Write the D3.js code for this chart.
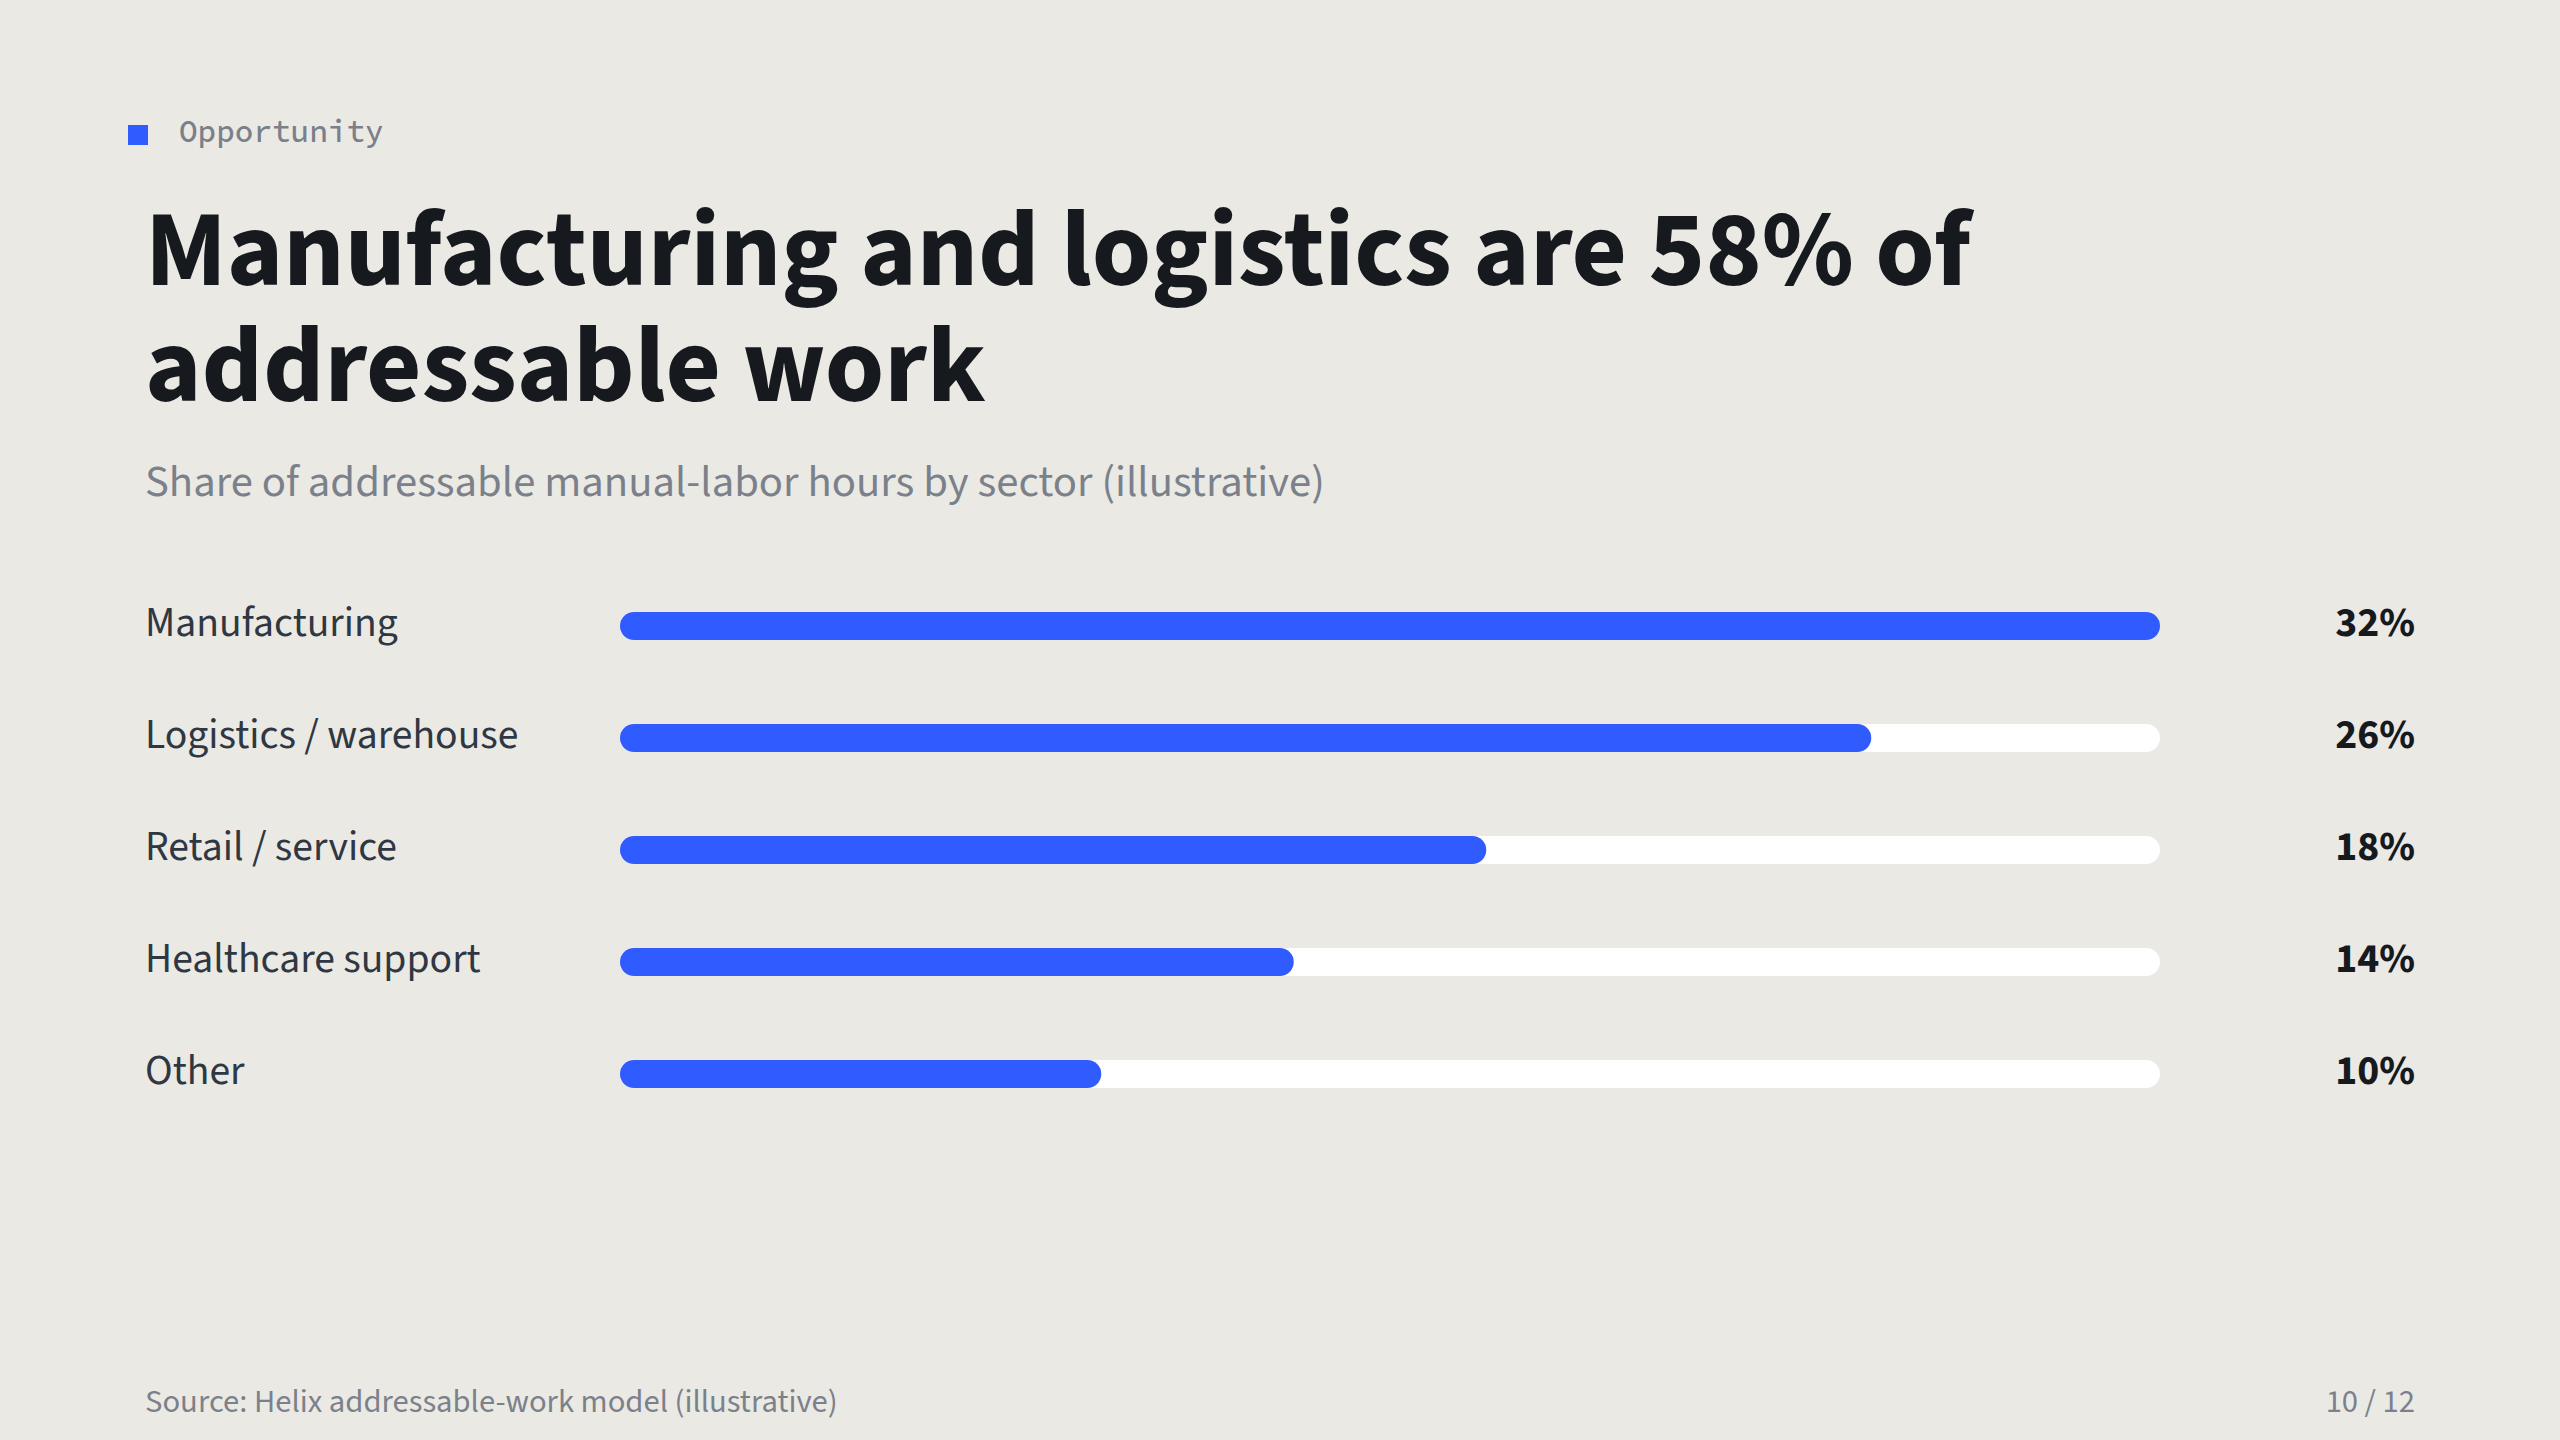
<!DOCTYPE html>
<html>
<head>
<meta charset="utf-8">
<script src="https://cdn.jsdelivr.net/npm/d3@7"></script>
<style>
  html, body { margin: 0; padding: 0; background: #ebe9e4; }
  svg { display: block; }
</style>
</head>
<body>
<svg width="2560" height="1440"></svg>
<script>
// chart data
const sectors = ["Manufacturing", "Logistics / warehouse", "Retail / service", "Healthcare support", "Other"];
const shares = [32, 26, 18, 14, 10];
const titleLines = ["Manufacturing and logistics are 58% of", "addressable work"];

const width = 2560;
const height = 1440;
const sans = "'Source Sans 3', 'Source Sans Pro', Lato, Roboto, sans-serif";

const svg = d3.select("svg");

svg.append("rect")
  .attr("width", width)
  .attr("height", height)
  .attr("fill", "#ebe9e4");

// fit a text to a measured width from the reference
function fitWidth(sel, target) {
  const base = +sel.attr("font-size");
  const w = sel.node().getComputedTextLength();
  return base * target / w;
}

// kicker
svg.append("rect")
  .attr("x", 128).attr("y", 125)
  .attr("width", 20).attr("height", 20)
  .attr("fill", "#2f5bff");

svg.append("text")
  .attr("x", 179).attr("y", 142)
  .attr("font-family", "'Source Code Pro', 'DejaVu Sans Mono', monospace")
  .attr("font-size", 31)
  .attr("font-weight", 500)
  .attr("fill", "#7a808a")
  .text("Opportunity");

// title, one text element with a tspan per line
const title = svg.append("text")
  .attr("x", 145).attr("y", 285)
  .attr("font-family", sans)
  .attr("font-weight", 700)
  .attr("font-size", 108)
  .attr("fill", "#16191e");

const t1 = title.append("tspan")
  .attr("x", 145).attr("y", 285)
  .text(titleLines[0]);
const titleSize = Math.min(112, 108 * 1826 / t1.node().getComputedTextLength());
title.attr("font-size", titleSize);

title.append("tspan")
  .attr("x", 145).attr("y", 401)
  .text(titleLines[1]);

// subtitle
const sub = svg.append("text")
  .attr("x", 145).attr("y", 496)
  .attr("font-family", sans)
  .attr("font-size", 42)
  .attr("fill", "#7b818b")
  .text("Share of addressable manual-labor hours by sector (illustrative)");
sub.attr("font-size", Math.min(48, fitWidth(sub, 1180)));

// scales
const x = d3.scaleLinear()
  .domain([0, d3.max(shares)])
  .range([620, 2160]);

const y = d3.scalePoint()
  .domain(sectors)
  .range([626, 1074]);

const barH = 28;
const rows = svg.append("g")
  .selectAll("g")
  .data(sectors.map((s, i) => ({ name: s, value: shares[i] })))
  .join("g")
  .attr("transform", (d) => `translate(0,${y(d.name)})`);

// track
rows.append("rect")
  .attr("x", x(0))
  .attr("y", -barH / 2)
  .attr("width", x.range()[1] - x(0))
  .attr("height", barH)
  .attr("rx", barH / 2)
  .attr("fill", "#ffffff");

// value bar
rows.append("rect")
  .attr("x", x(0))
  .attr("y", -barH / 2)
  .attr("width", (d) => x(d.value) - x(0))
  .attr("height", barH)
  .attr("rx", barH / 2)
  .attr("fill", "#2f5bff");

// labels
const labels = rows.append("text")
  .attr("x", 145)
  .attr("y", 10)
  .attr("font-family", sans)
  .attr("font-size", 40)
  .attr("fill", "#2f3742")
  .text((d) => d.name);
const labelSize = Math.min(44, fitWidth(d3.select(labels.nodes()[0]), 253));
labels.attr("font-size", labelSize);

rows.append("text")
  .attr("x", 2415)
  .attr("y", 10)
  .attr("text-anchor", "end")
  .attr("font-family", sans)
  .attr("font-weight", 700)
  .attr("font-size", labelSize)
  .attr("fill", "#16191e")
  .text((d) => `${d.value}%`);

// footer
const src = svg.append("text")
  .attr("x", 145).attr("y", 1412)
  .attr("font-family", sans)
  .attr("font-size", 30)
  .attr("fill", "#7b818b")
  .text("Source: Helix addressable-work model (illustrative)");
const footSize = Math.min(36, fitWidth(src, 693));
src.attr("font-size", footSize);

svg.append("text")
  .attr("x", 2415).attr("y", 1412)
  .attr("text-anchor", "end")
  .attr("font-family", sans)
  .attr("font-size", footSize)
  .attr("fill", "#7b818b")
  .text("10 / 12");
</script>
</body>
</html>
